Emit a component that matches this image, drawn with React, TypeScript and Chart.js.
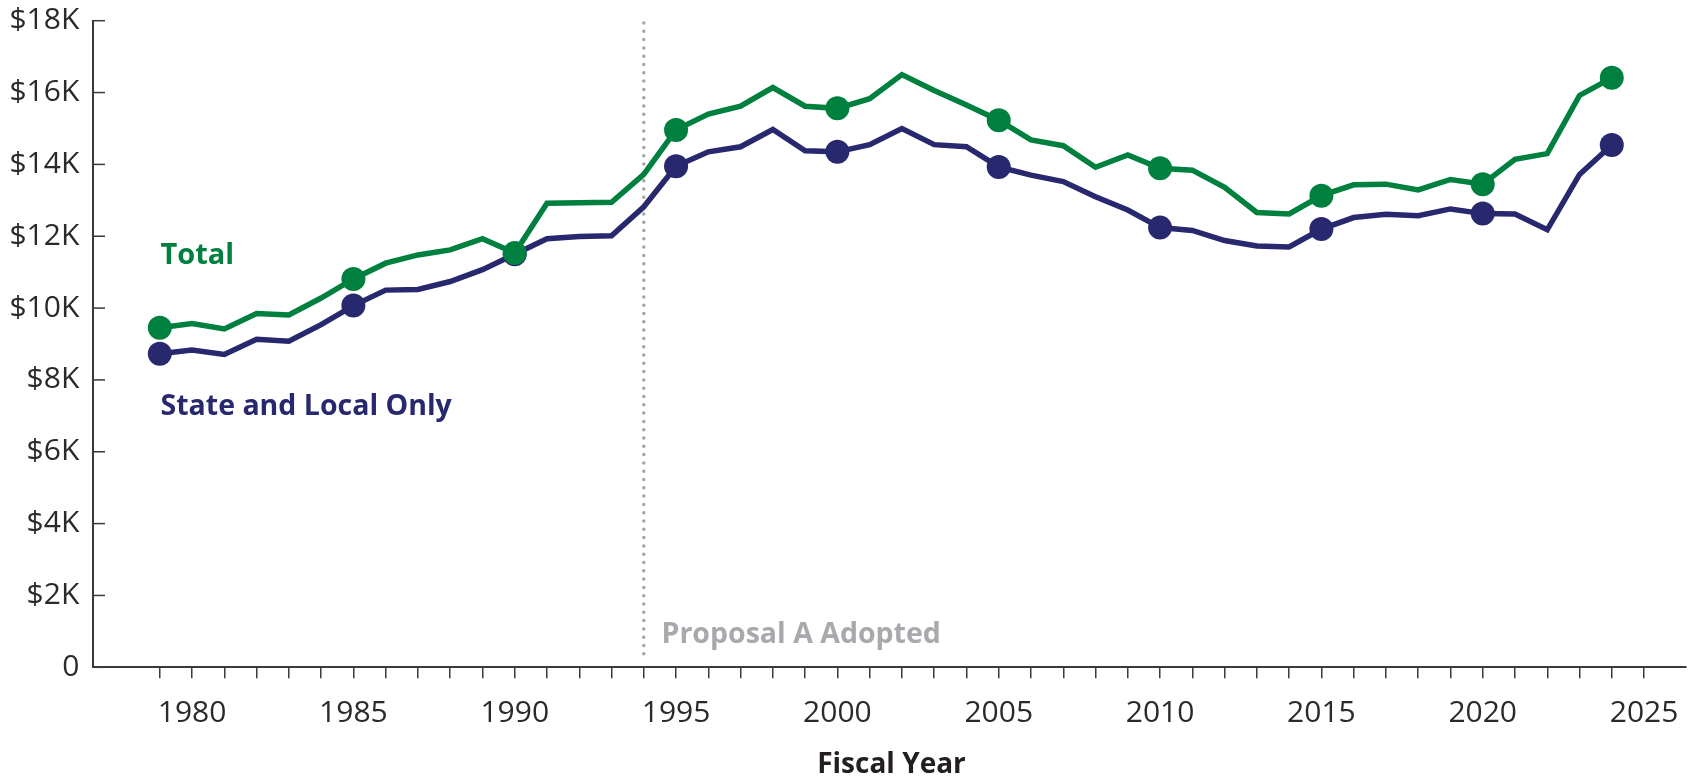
import React, { useEffect, useRef } from 'react';
import { Chart, registerables } from 'chart.js';

Chart.register(...registerables);

// ---------- data ----------
const YEARS = [
  1979, 1980, 1981, 1982, 1983, 1984, 1985, 1986, 1987, 1988,
  1989, 1990, 1991, 1992, 1993, 1994, 1995, 1996, 1997, 1998,
  1999, 2000, 2001, 2002, 2003, 2004, 2005, 2006, 2007, 2008,
  2009, 2010, 2011, 2012, 2013, 2014, 2015, 2016, 2017, 2018,
  2019, 2020, 2021, 2022, 2023, 2024,
];

const TOTAL = [
  9450, 9570, 9420, 9850, 9810, 10280, 10810, 11250, 11480, 11620,
  11930, 11530, 12920, 12935, 12945, 13720, 14960, 15400, 15620, 16140,
  15620, 15560, 15830, 16500, 16060, 15650, 15230, 14680, 14520, 13920,
  14260, 13890, 13840, 13360, 12660, 12620, 13130, 13430, 13450, 13290,
  13580, 13450, 14140, 14300, 15920, 16410,
];

const STATE_LOCAL = [
  8730, 8830, 8710, 9130, 9080, 9540, 10070, 10500, 10520, 10740,
  11070, 11500, 11930, 11990, 12010, 12820, 13950, 14350, 14490, 14970,
  14380, 14350, 14550, 15000, 14550, 14490, 13930, 13700, 13520, 13100,
  12730, 12240, 12160, 11880, 11730, 11700, 12200, 12520, 12610, 12570,
  12760, 12630, 12620, 12180, 13720, 14540,
];

const MARKER_YEARS = [1979, 1985, 1990, 1995, 2000, 2005, 2010, 2015, 2020, 2024];
const X_LABEL_YEARS = [1980, 1985, 1990, 1995, 2000, 2005, 2010, 2015, 2020, 2025];
const X_FIRST_TICK = 1979;
const X_LAST_TICK = 2025;
const Y_TICKS = [0, 2000, 4000, 6000, 8000, 10000, 12000, 14000, 16000, 18000];
const Y_TICK_LABELS = ['0', '$2K', '$4K', '$6K', '$8K', '$10K', '$12K', '$14K', '$16K', '$18K'];
const PROPOSAL_YEAR = 1994;

// ---------- styles ----------
const GREEN = '#00803F';
const NAVY = '#27286E';
const GRAY = '#A7A9AC';
const AXIS = '#3A3A3A';
const TEXT = '#2A2A2A';
const FONT = "'Open Sans', sans-serif";

const annotationPlugin = {
  id: 'annotations',
  beforeDatasetsDraw(chart: any) {
    const { ctx, scales } = chart;
    const px = scales.x.getPixelForValue(PROPOSAL_YEAR);
    ctx.save();
    ctx.strokeStyle = '#A4A4A4';
    ctx.lineWidth = 3.5;
    ctx.lineCap = 'round';
    ctx.setLineDash([0, 8.3]);
    ctx.beginPath();
    ctx.moveTo(px, 23);
    ctx.lineTo(px, 655);
    ctx.stroke();
    ctx.restore();
  },
  afterDraw(chart: any) {
    const { ctx, chartArea, scales } = chart;
    ctx.save();
    // inward y ticks
    ctx.strokeStyle = AXIS;
    ctx.lineWidth = 1.5;
    Y_TICKS.forEach((v) => {
      const py = scales.y.getPixelForValue(v);
      ctx.beginPath();
      ctx.moveTo(chartArea.left, py);
      ctx.lineTo(chartArea.left + 12, py);
      ctx.stroke();
    });
    // labels
    ctx.textBaseline = 'alphabetic';
    ctx.textAlign = 'left';
    ctx.fillStyle = GREEN;
    ctx.font = `bold 29px ${FONT}`;
    ctx.fillText('Total', 160.5, 264.3);
    ctx.fillStyle = NAVY;
    ctx.font = `bold 28.5px ${FONT}`;
    ctx.fillText('State and Local Only', 160.5, 415);
    ctx.fillStyle = GRAY;
    ctx.font = `bold 28.5px ${FONT}`;
    ctx.fillText('Proposal A Adopted', 661.5, 643.3);
    ctx.fillStyle = '#231F20';
    ctx.font = `bold 28px ${FONT}`;
    ctx.textAlign = 'center';
    ctx.fillText('Fiscal Year', 891.5, 772.7);
    ctx.restore();
  },
};

export default function App() {
  const ref = useRef<HTMLCanvasElement>(null);

  useEffect(() => {
    if (!ref.current) return;
    const markerRadius = (c: any) =>
      MARKER_YEARS.includes(YEARS[c.dataIndex]) ? 12 : 0;

    const chart = new Chart(ref.current, {
      type: 'line',
      data: {
        datasets: [
          {
            label: 'Total',
            data: YEARS.map((yr, i) => ({ x: yr, y: TOTAL[i] })),
            borderColor: GREEN,
            backgroundColor: GREEN,
            pointBackgroundColor: GREEN,
            borderWidth: 5.5,
            pointRadius: markerRadius,
            pointHoverRadius: markerRadius,
            pointBorderWidth: 0,
            tension: 0,
            clip: false,
          },
          {
            label: 'State and Local Only',
            data: YEARS.map((yr, i) => ({ x: yr, y: STATE_LOCAL[i] })),
            borderColor: NAVY,
            backgroundColor: NAVY,
            pointBackgroundColor: NAVY,
            borderWidth: 5.5,
            pointRadius: markerRadius,
            pointHoverRadius: markerRadius,
            pointBorderWidth: 0,
            tension: 0,
            clip: false,
          },
        ],
      },
      options: {
        animation: false,
        responsive: false,
        events: [],
        layout: { padding: { top: 20.7, right: 10, left: 0, bottom: 0 } },
        plugins: {
          legend: { display: false },
          tooltip: { enabled: false },
        },
        scales: {
          x: {
            type: 'linear',
            min: 1976.93,
            max: 2026.3,
            afterBuildTicks: (s: any) => {
              const t = [];
              for (let v = X_FIRST_TICK; v <= X_LAST_TICK; v++) t.push({ value: v });
              s.ticks = t;
            },
            afterFit: (s: any) => {
              s.height = 110.7;
              s.paddingLeft = 0;
              s.paddingRight = 0;
            },
            grid: {
              display: true,
              drawOnChartArea: false,
              drawTicks: true,
              tickLength: 11,
              color: AXIS,
              lineWidth: 1.5,
            },
            border: { display: true, color: AXIS, width: 2 },
            ticks: {
              autoSkip: false,
              maxRotation: 0,
              minRotation: 0,
              padding: 17,
              color: TEXT,
              font: { family: FONT, size: 30 },
              callback: (v: any) => (X_LABEL_YEARS.includes(Number(v)) ? String(v) : ''),
            },
          },
          y: {
            type: 'linear',
            min: 0,
            max: 18000,
            afterBuildTicks: (s: any) => {
              s.ticks = Y_TICKS.map((v) => ({ value: v }));
            },
            afterFit: (s: any) => {
              s.width = 93;
              s.paddingTop = 0;
              s.paddingBottom = 0;
            },
            grid: { display: false, drawTicks: false },
            border: { display: true, color: AXIS, width: 2 },
            ticks: {
              padding: 13.7,
              color: TEXT,
              font: { family: FONT, size: 30 },
              callback: (v: any) => {
                const i = Y_TICKS.indexOf(Number(v));
                return i >= 0 ? Y_TICK_LABELS[i] : '';
              },
            },
          },
        },
      },
      plugins: [annotationPlugin],
    });
    return () => chart.destroy();
  }, []);

  return (
    <div
      style={{
        position: 'absolute',
        left: 0,
        top: 0,
        width: 1698,
        height: 778,
        background: '#fff',
      }}
    >
      <canvas
        ref={ref}
        width={1698}
        height={778}
        style={{ display: 'block', width: 1698, height: 778 }}
      />
    </div>
  );
}
